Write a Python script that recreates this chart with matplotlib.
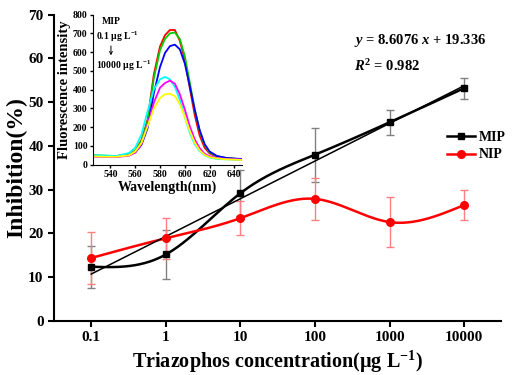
import numpy as np
import matplotlib.pyplot as plt

# Main data
conc_labels = ["0.1", "1", "10", "100", "1000", "10000"]
mip = [12.4, 15.2, 29.2, 38.0, 45.4, 53.2]
mip_err = [4.8, 5.6, 5.2, 6.2, 2.8, 2.4]
nip = [14.4, 18.9, 23.5, 27.9, 22.6, 26.5]
nip_err = [5.9, 4.7, 3.9, 4.8, 5.7, 3.4]
fit_slope = 8.6076
fit_icpt = 19.336

# Inset spectra (fluorescence intensity vs wavelength)
wl = [526, 535, 545, 555, 560, 565, 570, 575, 580, 584, 588, 592, 596, 600, 604, 608, 612, 616, 620, 626, 634, 646]
spec_red = [48, 46, 45, 55, 75, 130, 240, 480, 630, 690, 718, 718, 660, 560, 410, 265, 155, 90, 60, 42, 35, 28]
spec_green = [50, 48, 46, 55, 72, 125, 230, 460, 610, 670, 700, 705, 670, 580, 440, 295, 180, 105, 65, 45, 35, 28]
spec_blue = [45, 44, 43, 50, 65, 105, 195, 380, 520, 595, 632, 640, 615, 540, 420, 295, 185, 110, 70, 46, 35, 30]
spec_cyan = [50, 48, 46, 62, 90, 160, 285, 400, 455, 468, 455, 415, 345, 255, 170, 110, 72, 50, 38, 30, 28, 25]
spec_magenta = [42, 40, 40, 48, 64, 110, 215, 330, 410, 435, 448, 432, 375, 295, 205, 135, 88, 58, 45, 35, 30, 27]
spec_yellow = [44, 42, 42, 50, 70, 115, 205, 300, 355, 375, 378, 366, 322, 255, 180, 118, 76, 52, 40, 33, 28, 25]


def natural_spline(x, y, n=300):
    # plain natural cubic spline through the points, just for the smooth connecting line
    x = np.asarray(x, float)
    y = np.asarray(y, float)
    k = len(x)
    h = np.diff(x)
    A = np.zeros((k, k))
    b = np.zeros(k)
    A[0, 0] = A[-1, -1] = 1
    for i in range(1, k - 1):
        A[i, i - 1] = h[i - 1]
        A[i, i] = 2 * (h[i - 1] + h[i])
        A[i, i + 1] = h[i]
        b[i] = 3 * ((y[i + 1] - y[i]) / h[i] - (y[i] - y[i - 1]) / h[i - 1])
    c = np.linalg.solve(A, b)
    xs = np.linspace(x[0], x[-1], n)
    idx = np.clip(np.searchsorted(x, xs) - 1, 0, k - 2)
    dx = xs - x[idx]
    bb = (y[idx + 1] - y[idx]) / h[idx] - h[idx] * (2 * c[idx] + c[idx + 1]) / 3
    dd = (c[idx + 1] - c[idx]) / (3 * h[idx])
    ys = y[idx] + bb * dx + c[idx] * dx ** 2 + dd * dx ** 3
    return xs, ys


plt.rcParams['font.family'] = ['Liberation Serif', 'DejaVu Serif']
plt.rcParams['font.weight'] = 'bold'
plt.rcParams['axes.labelweight'] = 'bold'
plt.rcParams['mathtext.fontset'] = 'custom'
plt.rcParams['mathtext.rm'] = 'Liberation Serif:bold'
plt.rcParams['mathtext.it'] = 'Liberation Serif:bold:italic'
plt.rcParams['mathtext.bf'] = 'Liberation Serif:bold'
plt.rcParams['mathtext.default'] = 'bf'

fig = plt.figure(figsize=(5.29, 3.75), dpi=100)
ax = fig.add_axes([0.102, 0.144, 0.846, 0.817])

pos = np.arange(len(conc_labels))

xs, ys = natural_spline(pos, mip)
ax.plot(xs, ys, color='black', lw=1.8, zorder=3)
xs, ys = natural_spline(pos, nip)
ax.plot(xs, ys, color='red', lw=1.8, zorder=3)

ax.errorbar(pos, mip, yerr=mip_err, fmt='none', ecolor='#808080', elinewidth=1, capsize=3, zorder=2)
ax.errorbar(pos, nip, yerr=nip_err, fmt='none', ecolor='#ff8080', elinewidth=1, capsize=3, zorder=2)
ax.plot(pos, mip, 's', color='black', ms=5, zorder=4)
ax.plot(pos, nip, 'o', color='red', ms=5.5, zorder=4)

# linear fit: y = a*log10(c) + b, log10(c) = pos - 1
fx = np.array([pos[0], pos[-1]])
ax.plot(fx, fit_slope * (fx - 1) + fit_icpt, color='black', lw=1.1, zorder=3)

# legend handles
ax.plot([], [], 's-', color='black', ms=5, lw=1.8, label='MIP')
ax.plot([], [], 'o-', color='red', ms=5.5, lw=1.8, label='NIP')
h, l = ax.get_legend_handles_labels()
ax.legend(h[-2:], l[-2:], loc='upper left', bbox_to_anchor=(0.85, 0.66), frameon=False,
          fontsize=10, handlelength=2.0, handletextpad=0.3, labelspacing=0.3)

ax.text(0.67, 0.905, r'$\mathit{y}$ = 8.6076 $\mathit{x}$ + 19.336', transform=ax.transAxes, fontsize=10.5)
ax.text(0.67, 0.815, r'$\mathit{R}^{2}$ = 0.982', transform=ax.transAxes, fontsize=10.5)

ax.set_xlim(-0.5, 5.5)
ax.set_ylim(0, 70)
ax.set_xticks(pos)
ax.set_xticklabels(conc_labels)
ax.set_yticks(range(0, 71, 10))
ax.tick_params(labelsize=11, width=1.5, length=4)
for s in ['top', 'right']:
    ax.spines[s].set_visible(False)
for s in ['left', 'bottom']:
    ax.spines[s].set_linewidth(1.5)
ax.set_xlabel(r'Triazophos concentration(μg L$^{-1}$)', fontsize=14.5, labelpad=3)
ax.set_ylabel('Inhibition(%)', fontsize=17, labelpad=1)

# inset
ins = fig.add_axes([0.176, 0.561, 0.281, 0.40])
for spec, col in [(spec_red, 'red'), (spec_green, '#00cc00'), (spec_blue, 'blue'),
                  (spec_cyan, 'cyan'), (spec_magenta, 'magenta'), (spec_yellow, 'yellow')]:
    ins.plot(wl, spec, color=col, lw=1.3)
ins.set_xlim(526, 646)
ins.set_ylim(0, 800)
ins.set_xticks(range(540, 641, 20))
ins.set_yticks(range(0, 801, 100))
ins.tick_params(labelsize=7, width=1, length=2.5, pad=1.5)
for s in ['top', 'right']:
    ins.spines[s].set_visible(False)
ins.set_xlabel('Wavelength(nm)', fontsize=10, labelpad=1)
ins.set_ylabel('Fluorescence intensity', fontsize=10.5, labelpad=1)
ins.text(0.06, 0.94, 'MIP', transform=ins.transAxes, fontsize=7)
ins.text(0.02, 0.83, r'0.1 μg L$^{-1}$', transform=ins.transAxes, fontsize=7)
ins.annotate('', xy=(0.12, 0.71), xytext=(0.12, 0.81), xycoords='axes fraction',
             arrowprops=dict(arrowstyle='->', lw=0.7, color='black', mutation_scale=5))
ins.text(0.02, 0.64, r'10000 μg L$^{-1}$', transform=ins.transAxes, fontsize=7)

fig.savefig('out.png', dpi=100)
